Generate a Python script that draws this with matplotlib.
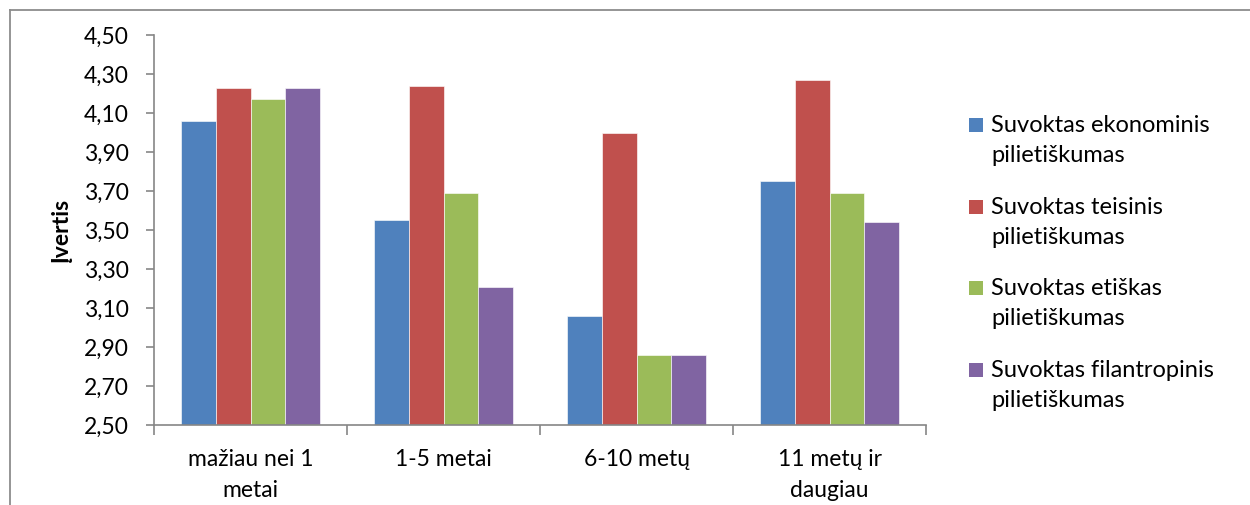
import matplotlib
matplotlib.use("Agg")
import matplotlib.pyplot as plt
import numpy as np
from matplotlib.lines import Line2D
from matplotlib.patches import Rectangle

plt.rcParams['font.family'] = ['Lato', 'DejaVu Sans']

categories = ["mažiau nei 1\nmetai", "1-5 metai", "6-10 metų", "11 metų ir\ndaugiau"]
series_names = ["Suvoktas ekonominis\npilietiškumas",
                "Suvoktas teisinis\npilietiškumas",
                "Suvoktas etiškas\npilietiškumas",
                "Suvoktas filantropinis\npilietiškumas"]
ekonominis = [4.06, 3.55, 3.06, 3.75]
teisinis = [4.23, 4.24, 4.00, 4.27]
etiskas = [4.17, 3.69, 2.86, 3.69]
filantropinis = [4.23, 3.21, 2.86, 3.54]
yticks = [2.50, 2.70, 2.90, 3.10, 3.30, 3.50, 3.70, 3.90, 4.10, 4.30, 4.50]
ylabel = "Įvertis"

values = [ekonominis, teisinis, etiskas, filantropinis]
colors = ["#4F81BD", "#C0504D", "#9BBB59", "#8064A2"]

FS = 16.5
W, H = 1250, 505
fig = plt.figure(figsize=(W / 100, H / 100), dpi=100)
ax = fig.add_axes([154 / W, 1 - 425 / H, 772 / W, 390 / H])

x = np.arange(len(categories))
bw = 0.1813
for i, (vals, c) in enumerate(zip(values, colors)):
    ax.bar(x + (i - 1.5) * bw, np.array(vals) - 2.5, bottom=2.5, width=bw,
           color=c, edgecolor=(1, 1, 1, 0.6), linewidth=0.7, zorder=2)

ax.set_xlim(-0.5, len(categories) - 0.5)
ax.set_ylim(2.5, 4.5)
ax.set_yticks(yticks)
ax.set_yticklabels([f"{v:.2f}".replace(".", ",") for v in yticks])
ax.set_xticks(np.arange(-0.5, len(categories), 1.0))
ax.set_xticklabels([])
ax.set_xticks(x, minor=True)
ax.set_xticklabels(categories, minor=True, linespacing=1.6)

gray = "#868686"
for s in ["top", "right"]:
    ax.spines[s].set_visible(False)
for s in ["left", "bottom"]:
    ax.spines[s].set_color(gray)
    ax.spines[s].set_linewidth(1.2)

ax.tick_params(axis="y", direction="out", length=6, width=1.2, color=gray,
               labelsize=FS, pad=12, labelcolor="black")
ax.tick_params(axis="x", which="major", direction="out", length=7, width=1.2, color=gray)
ax.tick_params(axis="x", which="minor", length=0, labelsize=FS, pad=17, labelcolor="black")
for t in ax.get_xticklabels(minor=True):
    t.set_verticalalignment("top")

ax.set_ylabel(ylabel, fontsize=FS, fontweight="bold")
ax.yaxis.set_label_coords(-0.106, 0.5)

# legend drawn manually (first line aligned with marker)
leg_y = [125, 207, 288, 370]
for name, c, yy in zip(series_names, colors, leg_y):
    fig.add_artist(Rectangle((969 / W, 1 - (yy + 7) / H), 14 / W, 14 / H,
                             transform=fig.transFigure, facecolor=c, edgecolor="none"))
    fig.text(991 / W, 1 - (yy - 10) / H, name, fontsize=FS + 0.5, va="top", ha="left",
             linespacing=1.55)

# chart frame (top and left edges visible)
fig.add_artist(Line2D([10 / W, 1.0], [1 - 9.5 / H, 1 - 9.5 / H], color="#8c8c8c",
                      linewidth=1.3, transform=fig.transFigure))
fig.add_artist(Line2D([10 / W, 10 / W], [0, 1 - 9.5 / H], color="#8c8c8c",
                      linewidth=1.3, transform=fig.transFigure))

fig.savefig("out.png", dpi=100, facecolor="white")
